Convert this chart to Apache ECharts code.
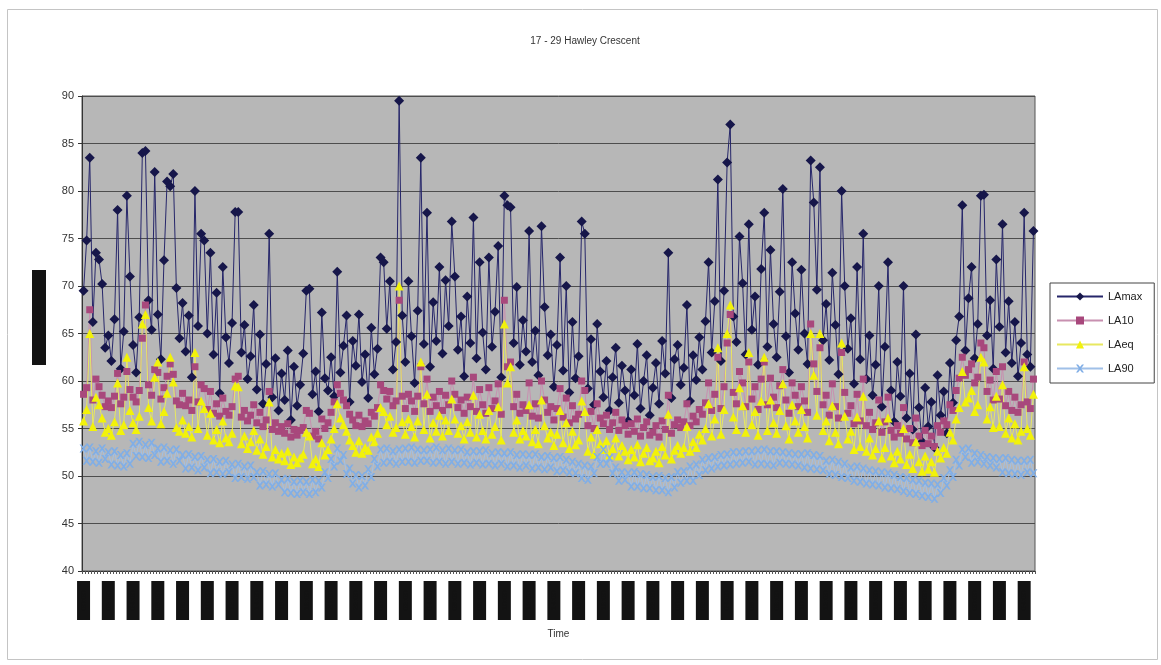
<!DOCTYPE html>
<html>
<head>
<meta charset="utf-8">
<script src="https://cdn.jsdelivr.net/npm/echarts@6/dist/echarts.min.js"></script>
<style>
html,body{margin:0;padding:0;background:#fff;}
#chart{width:1161px;height:665px;}
</style>
</head>
<body>
<div id="chart"></div>
<script>
// ---- data ----
const title = '17 - 29 Hawley Crescent';
const seriesNames = ['LAmax', 'LA10', 'LAeq', 'LA90'];
const xAxisName = 'Time';
const yAxisName = 'dB(A)';
const yTicks = [40, 45, 50, 55, 60, 65, 70, 75, 80, 85, 90];

const LAmax = [
69.5,74.8,83.5,66.2,73.5,72.8,70.2,63.5,
64.8,62.1,66.5,78.0,61.3,65.2,79.5,71.0,
63.8,60.9,66.7,84.0,84.2,68.5,65.4,82.0,
67.0,62.3,72.7,81.0,80.5,81.8,69.8,64.5,
68.2,63.1,66.9,60.4,80.0,65.8,75.5,74.8,
65.0,73.5,62.8,69.3,58.7,72.0,64.6,61.9,
66.1,77.8,77.8,63.0,65.9,60.2,62.6,68.0,
59.1,64.9,57.6,61.8,75.5,58.3,62.4,56.9,
60.8,58.0,63.2,55.9,61.5,57.4,59.6,62.9,
69.5,69.7,58.6,61.0,56.8,67.2,60.3,59.0,
62.5,58.4,71.5,60.9,63.7,66.9,57.8,64.2,
61.6,67.0,59.9,62.8,58.2,65.6,60.7,63.4,
73.0,72.5,65.5,70.5,61.2,64.1,89.5,66.9,
62.0,70.5,64.7,59.8,67.4,83.5,63.9,77.7,
61.5,68.3,64.2,72.0,62.9,70.6,65.8,76.8,
71.0,63.3,66.8,60.5,68.9,64.0,77.2,62.4,
72.5,65.1,61.2,73.0,63.6,67.3,74.2,60.4,
79.5,78.5,78.3,64.0,69.9,61.7,66.4,63.1,
75.8,62.0,65.3,60.6,76.3,67.8,62.7,64.9,
59.4,63.8,73.0,61.1,70.0,58.8,66.2,60.3,
62.6,76.8,75.5,59.2,64.4,57.5,66.0,61.0,
58.3,62.1,56.9,60.4,63.5,57.7,61.6,59.0,
55.8,61.2,58.5,63.9,57.1,60.0,62.7,56.4,
59.3,61.9,57.6,64.2,60.8,73.5,58.2,62.3,
63.8,59.6,61.4,68.0,57.9,62.7,60.1,64.6,
61.2,66.3,72.5,63.0,68.4,81.2,62.1,69.5,
83.0,87.0,66.8,64.1,75.2,70.3,62.8,76.5,
65.4,68.9,61.7,71.8,77.7,63.6,73.8,66.0,
62.5,69.4,80.2,64.7,60.9,72.5,67.1,63.3,
71.7,65.0,61.8,83.2,78.8,69.6,82.5,64.3,
68.1,62.2,71.4,65.9,60.7,80.0,70.0,63.4,
66.6,59.7,72.0,62.3,75.5,60.2,64.8,58.5,
61.7,70.0,57.3,63.6,72.5,59.0,55.7,62.0,
58.4,70.0,56.1,60.8,54.9,64.9,57.2,53.6,
59.3,55.2,57.8,53.0,60.6,56.4,58.9,54.5,
61.9,57.7,64.3,66.8,78.5,63.2,68.7,72.0,
62.4,66.0,79.5,79.6,64.8,68.5,61.3,72.8,
65.7,76.5,63.0,68.4,61.9,66.2,60.5,64.0,
77.7,62.8,61.5,75.8
];

const LA10 = [
58.6,59.3,67.5,58.0,60.2,59.4,58.5,57.3,
57.9,57.2,58.4,60.8,57.6,58.3,61.0,59.1,
58.3,57.8,59.0,64.5,68.0,59.6,58.5,61.2,
60.9,58.1,59.3,60.5,61.8,60.7,57.9,57.5,
58.7,57.4,58.0,56.9,61.5,57.8,59.6,59.2,
57.0,58.9,56.6,57.6,56.3,58.2,56.8,56.4,
57.3,60.2,60.5,56.2,56.9,55.8,56.4,57.5,
55.6,56.7,55.2,55.9,58.9,54.9,55.6,54.7,
55.2,54.5,55.5,54.1,54.9,54.3,54.8,55.1,
56.9,56.6,54.2,54.7,53.9,56.0,55.0,55.6,
56.7,57.8,59.6,58.7,58.0,57.4,56.5,55.9,
55.3,56.4,55.2,55.8,55.5,56.7,56.3,57.2,
59.6,59.0,58.1,58.9,57.4,57.9,68.5,58.4,
57.1,58.6,57.9,56.8,58.4,61.5,57.6,60.2,
56.8,58.3,57.4,58.9,56.9,58.5,57.5,60.0,
58.6,57.2,58.0,56.6,58.3,57.3,60.4,56.8,
59.1,57.5,56.6,59.3,57.1,57.9,59.7,56.5,
68.5,61.5,62.0,57.3,58.6,56.6,57.5,56.9,
59.8,56.3,57.6,56.1,60.0,58.0,56.7,57.3,
55.9,57.1,59.2,56.2,58.2,55.6,57.4,56.0,
56.5,60.0,59.0,55.3,56.8,55.0,57.6,56.1,
55.5,56.4,54.9,55.6,56.7,54.8,55.9,55.3,
54.4,55.5,54.7,56.0,54.2,55.1,55.7,54.3,
54.6,55.3,54.1,55.8,54.9,58.5,54.5,55.4,
55.9,55.1,55.7,57.6,55.3,56.3,55.7,57.0,
56.5,57.7,59.8,56.9,58.6,62.5,57.1,59.4,
64.0,67.0,58.8,57.6,61.0,59.8,57.3,62.0,
58.1,59.4,57.0,60.2,62.0,57.5,60.3,58.3,
57.2,59.5,61.2,58.0,56.6,59.8,58.5,57.3,
59.4,57.9,56.7,66.0,61.8,58.9,63.5,57.5,
58.5,56.4,59.7,57.3,56.1,63.0,58.8,56.6,
57.4,55.5,58.6,55.8,60.2,55.3,56.7,54.9,
55.6,58.0,54.6,55.7,58.3,54.8,54.1,55.3,
54.5,57.2,53.9,55.0,53.5,56.1,54.2,53.2,
54.8,53.4,54.2,53.1,55.3,54.6,55.8,55.4,
57.5,56.9,59.0,60.3,62.5,60.6,61.2,61.8,
59.8,60.4,64.0,63.5,58.9,60.1,58.0,61.0,
58.1,61.5,57.4,58.9,56.9,58.3,56.7,57.5,
62.0,57.8,57.1,60.2
];

const LAeq = [
55.8,57.0,65.0,55.2,58.3,57.5,56.1,54.6,
55.0,54.3,55.7,59.8,54.8,55.4,62.5,56.9,
55.6,54.9,56.3,66.0,67.0,57.2,55.8,60.4,
62.0,55.5,56.8,58.7,62.5,59.9,55.1,54.7,
55.9,54.5,55.2,54.1,63.0,55.0,57.9,57.1,
54.3,56.6,53.8,54.9,53.5,55.8,54.0,53.6,
54.5,59.5,59.4,53.4,54.2,52.9,53.6,54.8,
52.7,53.9,52.3,53.1,57.8,52.0,52.8,51.8,
52.4,51.6,52.6,51.2,52.0,51.4,51.9,52.3,
54.6,54.2,51.3,51.8,51.0,53.5,52.2,52.8,
53.9,55.0,57.6,56.1,55.4,54.7,53.8,53.2,
52.5,53.7,52.4,53.0,52.7,54.1,53.6,54.5,
57.2,56.8,55.4,56.3,54.6,55.1,70.0,55.7,
54.4,56.0,55.2,54.1,55.8,62.0,54.9,58.6,
54.0,55.6,54.7,56.4,54.2,55.9,54.8,58.1,
56.0,54.5,55.3,53.9,55.7,54.6,58.5,54.1,
56.5,54.8,53.9,56.9,54.4,55.2,57.3,53.8,
66.0,59.8,61.5,54.6,55.9,53.9,54.8,54.2,
57.5,53.6,54.9,53.4,58.0,55.3,54.0,54.6,
53.2,54.4,56.9,53.5,55.6,52.9,54.7,53.3,
53.8,57.9,56.8,52.6,54.1,52.3,54.9,53.4,
52.8,53.7,52.2,52.9,54.0,52.1,53.2,52.6,
51.7,52.8,52.0,53.3,51.5,52.4,53.0,51.6,
51.9,52.6,51.4,53.1,52.2,56.5,51.8,52.7,
53.2,52.4,53.0,55.2,52.6,53.6,53.0,54.4,
53.8,55.0,57.6,54.2,56.0,63.5,54.4,57.0,
65.0,68.0,56.2,54.9,59.3,57.4,54.6,63.0,
55.4,56.8,54.3,57.9,62.5,54.8,58.0,55.6,
54.5,56.9,59.7,55.3,53.9,57.5,55.8,54.6,
57.0,55.2,54.0,65.0,60.6,56.4,65.0,54.8,
55.8,53.7,57.4,54.6,53.4,64.0,56.3,53.9,
54.7,52.8,56.2,53.1,58.4,52.6,54.0,52.2,
52.9,55.8,51.9,53.0,56.1,52.1,51.4,52.6,
51.8,55.0,51.2,52.3,50.8,53.6,51.5,50.5,
52.1,50.7,51.5,50.4,52.6,51.9,53.0,52.4,
54.6,53.8,56.0,57.2,61.0,57.8,58.2,59.0,
56.8,57.5,62.5,62.0,56.0,57.3,55.1,58.4,
55.2,59.6,54.5,56.1,54.0,55.5,53.8,54.7,
61.5,55.0,54.3,58.6
];

const LA90 = [
52.9,51.6,53.0,51.5,52.6,51.4,52.9,51.8,
52.5,51.2,52.6,51.1,52.2,51.0,52.4,51.3,
53.4,52.1,53.6,52.0,53.3,51.9,53.5,52.2,
52.9,51.5,53.0,51.6,52.7,51.3,52.8,51.6,
52.2,50.8,52.3,50.9,52.0,50.6,52.1,50.9,
51.7,50.3,51.8,50.4,51.5,50.2,51.6,50.4,
51.2,49.8,51.3,49.9,51.0,49.7,51.1,49.9,
50.4,49.0,50.5,49.1,50.2,48.9,50.3,49.1,
49.6,48.3,49.7,48.2,49.4,48.1,49.5,48.3,
49.4,48.1,49.6,48.3,49.5,48.8,50.4,49.8,
51.8,51.0,52.9,51.6,52.2,50.2,50.8,49.2,
50.1,48.8,50.0,49.0,50.7,49.9,51.8,51.0,
52.8,51.4,52.9,51.5,52.6,51.3,52.8,51.5,
52.9,51.5,53.0,51.4,52.8,51.6,52.7,51.6,
52.8,51.4,53.0,51.5,52.7,51.3,52.9,51.5,
52.7,51.3,52.8,51.4,52.5,51.2,52.6,51.4,
52.6,51.2,52.7,51.3,52.4,51.1,52.5,51.3,
52.4,51.0,52.5,51.1,52.2,50.9,52.3,51.1,
52.2,50.8,52.3,50.9,52.0,50.7,52.1,50.9,
51.9,50.5,52.0,50.6,51.7,50.4,51.5,50.3,
51.3,49.8,51.1,49.6,51.0,50.3,52.0,51.3,
52.8,51.3,51.9,50.3,50.9,49.5,50.4,49.6,
50.3,48.9,50.4,48.9,50.2,48.7,50.1,48.7,
49.9,48.5,50.0,48.5,49.8,48.3,49.9,48.8,
50.4,49.3,50.5,49.5,51.0,49.5,51.2,50.1,
51.7,50.6,51.9,50.8,52.0,51.0,52.2,51.1,
52.3,51.2,52.5,51.3,52.5,51.4,52.6,51.5,
52.6,51.2,52.7,51.3,52.8,51.2,52.6,51.1,
52.6,51.4,52.5,51.3,52.4,51.2,52.3,51.1,
52.3,50.9,52.4,50.8,52.2,50.7,52.1,50.6,
51.6,50.2,51.7,50.1,51.5,49.9,51.3,49.8,
50.9,49.5,51.0,49.4,50.8,49.2,50.6,49.1,
50.5,49.0,50.4,48.8,50.3,48.7,50.1,48.6,
49.9,48.4,49.8,48.2,49.6,48.1,49.5,47.9,
49.3,47.8,49.2,47.6,49.1,48.2,49.8,49.0,
50.6,49.9,51.7,51.1,52.8,52.0,52.9,51.4,
52.4,51.5,52.2,51.3,52.0,51.1,51.9,50.9,
51.8,50.4,51.9,50.3,51.7,50.2,51.6,50.1,
51.6,50.4,51.7,50.3
];

// category names: one per reading (labels in the reference are blacked out)
const categories = LAmax.map((_, i) => {
  const m = i * 15;
  const hh = String(Math.floor(m / 60) % 24).padStart(2, '0');
  const mm = String(m % 60).padStart(2, '0');
  return hh + ':' + mm;
});

// ---- chart ----
const chart = echarts.init(document.getElementById('chart'), null, {renderer: 'canvas'});
const FONT = '"Liberation Sans", Arial, sans-serif';
const xSym = 'path://M0,0 L2.5,0 L5,3.2 L7.5,0 L10,0 L6.3,5 L10,10 L7.5,10 L5,6.8 L2.5,10 L0,10 L3.7,5 Z';

function mk(name, data, color, lineColor, symbol, size) {
  return {
    name: name, type: 'line', data: data,
    symbol: symbol, symbolSize: size, showAllSymbol: true,
    itemStyle: {color: color, borderWidth: 0},
    lineStyle: {color: lineColor, width: 1},
    emphasis: {disabled: true},
    animation: false
  };
}

chart.setOption({
  backgroundColor: '#ffffff',
  animation: false,
  graphic: [{
    type: 'rect', left: 5, top: 7, shape: {width: 1150, height: 650},
    style: {fill: 'none', stroke: '#c4c4c4', lineWidth: 1}, silent: true, z: -1
  }],
  title: {
    text: title, left: 580, top: 31, textAlign: 'center',
    textStyle: {fontSize: 10, fontWeight: 'normal', color: '#333', fontFamily: FONT}
  },
  legend: {
    orient: 'vertical', left: 1050, top: 283,
    data: seriesNames,
    backgroundColor: '#fff', borderColor: '#444', borderWidth: 1,
    padding: [8, 12, 9, 6], itemGap: 13, itemWidth: 46, itemHeight: 10,
    textStyle: {fontSize: 11, color: '#222', fontFamily: FONT}
  },
  grid: {
    left: 82, top: 96, right: 126, bottom: 94, show: true,
    backgroundColor: '#b7b7b7', borderColor: '#555', borderWidth: 1
  },
  xAxis: {
    type: 'category', data: categories, boundaryGap: true,
    name: xAxisName, nameLocation: 'middle', nameGap: 58,
    nameTextStyle: {fontSize: 10, color: '#333', fontFamily: FONT},
    axisLine: {lineStyle: {color: '#333'}},
    axisTick: {show: true, interval: 0, length: 3, lineStyle: {color: '#555'}},
    axisLabel: {
      interval: 7, rotate: 90, margin: 10,
      formatter: v => '{b|' + v + '}',
      rich: {b: {backgroundColor: '#131313', color: '#131313', width: 39, height: 13, lineHeight: 13, fontSize: 8, align: 'center'}}
    },
    splitLine: {show: false}
  },
  yAxis: {
    type: 'value', min: yTicks[0], max: yTicks[yTicks.length - 1], interval: 5,
    name: yAxisName, nameLocation: 'middle', nameRotate: 90, nameGap: 36,
    nameTextStyle: {
      rich: {
        b: {backgroundColor: '#131313', color: '#131313', width: 95, height: 14, lineHeight: 14, fontSize: 9, align: 'center'},
        s: {width: 32, height: 14}
      }
    },
    axisLine: {show: true, lineStyle: {color: '#333'}},
    axisTick: {show: true, length: 4, lineStyle: {color: '#333'}},
    axisLabel: {fontSize: 11, color: '#333', margin: 8, fontFamily: FONT},
    splitLine: {show: true, lineStyle: {color: '#4d4d4d', width: 1}}
  },
  series: [
    mk('LAmax', LAmax, '#16164a', '#26266a', 'diamond', 10),
    mk('LA10', LA10, '#a8487c', '#c890b0', 'rect', 7),
    mk('LAeq', LAeq, '#f2f20a', '#e8e860', 'triangle', 9),
    mk('LA90', LA90, '#80aee6', '#a0c0e8', xSym, 8)
  ]
});
// y-axis name with spacer so the block sits a bit above the centre
chart.setOption({yAxis: {name: '{s|}{b|' + yAxisName + '}'}});
</script>
</body>
</html>
